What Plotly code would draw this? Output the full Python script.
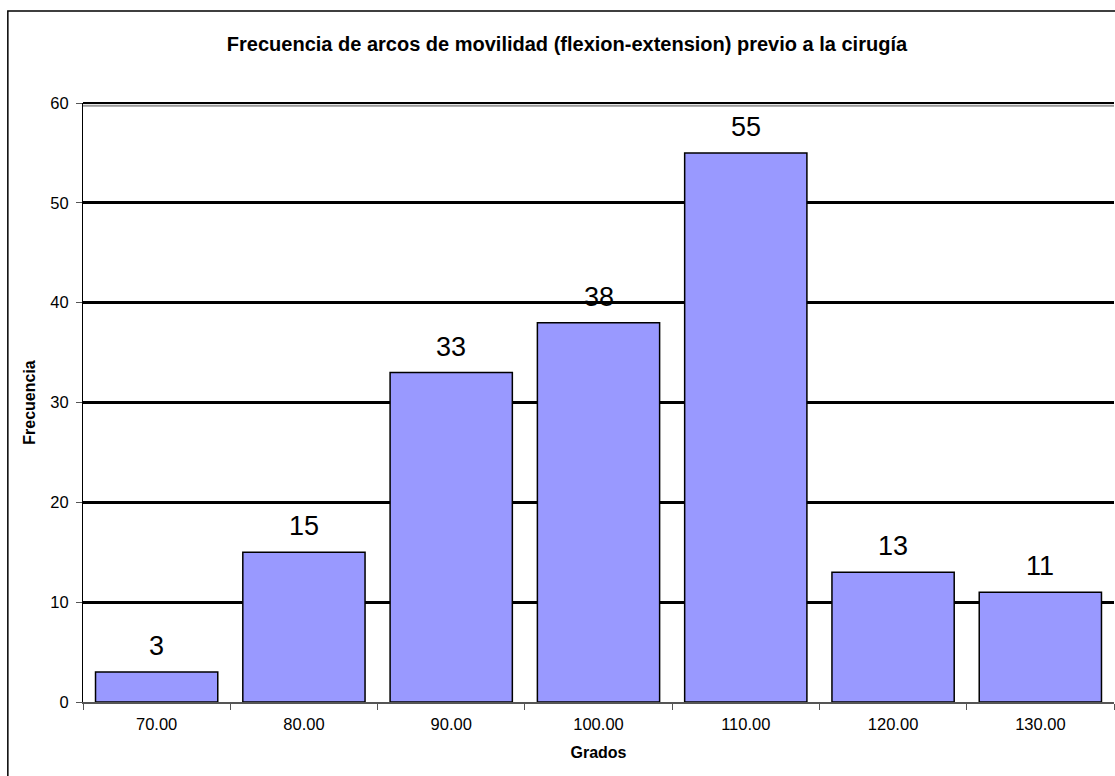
import plotly.graph_objects as go

# Range-of-motion categories (degrees) and patient counts
grados = ["70.00", "80.00", "90.00", "100.00", "110.00", "120.00", "130.00"]
frecuencia = [3, 15, 33, 38, 55, 13, 11]
y_ticks = [0, 10, 20, 30, 40, 50, 60]

FONT = "Arial, Liberation Sans, sans-serif"

fig = go.Figure()
fig.add_trace(go.Bar(
    x=grados,
    y=frecuencia,
    marker=dict(color="#9999FF", line=dict(color="black", width=1.5)),
    width=0.83,
    hoverinfo="x+y",
))

# Value labels above each bar (positioned by category index)
for i, v in enumerate(frecuencia):
    fig.add_annotation(
        x=i, y=v, text=str(v), showarrow=False,
        xref="x", yref="y",
        yanchor="bottom", yshift=9,
        font=dict(family=FONT, size=27, color="black"),
    )

# Outer chart frame
fig.add_shape(type="rect", xref="paper", yref="paper",
              x0=-0.0729, x1=1.2, y0=-0.3, y1=1.1536,
              line=dict(color="black", width=1.5), fillcolor="rgba(0,0,0,0)",
              layer="below")
# Top edge of the plot area: black rule with a grey shadow beneath
fig.add_shape(type="line", xref="paper", yref="paper",
              x0=0.0, x1=1.0, y0=0.9955, y1=0.9955,
              line=dict(color="#999999", width=2))
fig.add_shape(type="line", xref="paper", yref="paper",
              x0=0.0, x1=1.0, y0=1.0, y1=1.0,
              line=dict(color="black", width=2))

fig.update_layout(
    width=1115, height=776,
    margin=dict(l=83, r=1, t=103, b=74),
    paper_bgcolor="white",
    plot_bgcolor="white",
    showlegend=False,
    title=dict(
        text="<b>Frecuencia de arcos de movilidad (flexion-extension) previo a la cirugía</b>",
        x=0.5085, xref="container", xanchor="center",
        y=1 - 44 / 776, yref="container", yanchor="middle",
        font=dict(family=FONT, size=20, color="black"),
    ),
    font=dict(family=FONT, color="black"),
)

fig.update_xaxes(
    type="category",
    categoryorder="array", categoryarray=grados,
    range=[-0.5, len(grados) - 0.5],
    tickson="boundaries",
    ticks="outside", ticklen=6, tickcolor="#555555", tickwidth=1,
    showline=True, linecolor="#555555", linewidth=1.5,
    showgrid=False,
    tickangle=0,
    ticklabelstandoff=6,
    tickfont=dict(family=FONT, size=16.5, color="black"),
    title=dict(text="<b>Grados</b>", font=dict(family=FONT, size=16, color="black"), standoff=15),
)

fig.update_yaxes(
    range=[0, 60],
    tickvals=y_ticks,
    ticks="outside", ticklen=6, tickcolor="#555555", tickwidth=1,
    showline=True, linecolor="black", linewidth=1.2,
    showgrid=True, gridcolor="black", gridwidth=2.5,
    zeroline=False,
    ticklabelstandoff=4,
    tickfont=dict(family=FONT, size=16.5, color="black"),
    title=dict(text="<b>Frecuencia</b>", font=dict(family=FONT, size=16, color="black"), standoff=10),
)

fig.write_html("out.html")
